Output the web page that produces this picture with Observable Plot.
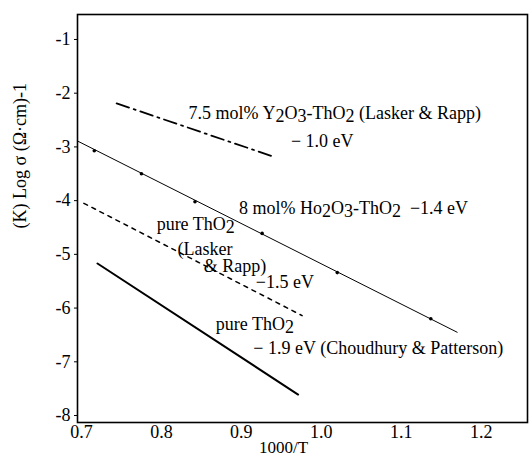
<!DOCTYPE html>
<html><head><meta charset="utf-8">
<script src="https://cdn.jsdelivr.net/npm/d3@7"></script>
<script src="https://cdn.jsdelivr.net/npm/@observablehq/plot@0.6"></script>
<style>
body{margin:0;background:#fff}
svg{display:block}
#chart svg, #chart svg text{font-family:'Liberation Serif','DejaVu Serif','Times New Roman',serif !important}
</style>
</head><body><div id="chart"></div>
<script>
// tick values
const xTicks = [0.7, 0.8, 0.9, 1.0, 1.1, 1.2];
const yTicks = [-1, -2, -3, -4, -5, -6, -7, -8];

// series (1000/T, log sigma)
const y2o3X = [0.744, 0.940];
const y2o3Y = [-2.19, -3.18];
const hoX = [0.695, 1.17];
const hoY = [-2.89, -6.45];
const hoPtsX = [0.716, 0.775, 0.842, 0.926, 1.020, 1.137];
const hoPtsY = [-3.07, -3.50, -4.02, -4.61, -5.34, -6.20];
const laskerX = [0.703, 0.976];
const laskerY = [-4.05, -6.14];
const choudX = [0.720, 0.971];
const choudY = [-5.17, -7.61];

// annotations
const noteText = [
  "7.5 mol% Y2O3-ThO2 (Lasker & Rapp)",
  "\u2212 1.0 eV",
  "8 mol% Ho2O3-ThO2  \u22121.4 eV",
  "pure ThO2",
  "(Lasker",
  "& Rapp)",
  "\u22121.5 eV",
  "pure ThO2",
  "\u2212 1.9 eV (Choudhury & Patterson)"
];
const noteX = [0.834, 0.962, 0.897, 0.794, 0.820, 0.853, 0.918, 0.868, 0.915];
const noteY = [-2.38, -2.90, -4.15, -4.44, -4.91, -5.23, -5.52, -6.31, -6.74];

const toRows = (xs, ys) => xs.map((x, i) => ({x, y: ys[i]}));
const notes = noteText.map((t, i) => ({t, x: noteX[i], y: noteY[i]}));

const font = "'Liberation Serif', 'DejaVu Serif', 'Times New Roman', serif";

const chart = Plot.plot({
  width: 530,
  height: 457,
  marginLeft: 77,
  marginRight: 3,
  marginTop: 14,
  marginBottom: 35,
  style: {fontFamily: font, fontSize: "18px", background: "#fff", color: "#000"},
  x: {domain: [0.695, 1.258], ticks: xTicks, tickFormat: d => d.toFixed(1), tickSize: 0, tickPadding: 3, label: null},
  y: {domain: [-8.13, -0.535], ticks: yTicks, tickFormat: d => String(d), tickSize: 3, tickPadding: 4, label: null},
  marks: [
    Plot.frame({stroke: "#000", strokeWidth: 1.6}),
    Plot.line(toRows(y2o3X, y2o3Y), {x: "x", y: "y", stroke: "#000", strokeWidth: 1.8, strokeDasharray: "13,5,2,5"}),
    Plot.line(toRows(hoX, hoY), {x: "x", y: "y", stroke: "#000", strokeWidth: 1}),
    Plot.dot(toRows(hoPtsX, hoPtsY), {x: "x", y: "y", r: 1.8, fill: "#000"}),
    Plot.line(toRows(laskerX, laskerY), {x: "x", y: "y", stroke: "#000", strokeWidth: 1.5, strokeDasharray: "4,5"}),
    Plot.line(toRows(choudX, choudY), {x: "x", y: "y", stroke: "#000", strokeWidth: 2}),
    Plot.text(notes, {x: "x", y: "y", text: "t", textAnchor: "start", fontSize: 18, fill: "#000", className: "notes"}),
    Plot.text(["(K) Log \u03c3 (\u03a9\u00b7cm)-1"], {frameAnchor: "left", dx: -57, dy: 10, rotate: -90, fontSize: 18, fill: "#000"}),
    Plot.text(["1000/T"], {frameAnchor: "bottom", lineAnchor: "middle", dx: -19, dy: 25, fontSize: 17, fill: "#000"})
  ]
});
document.getElementById("chart").appendChild(chart);

// lowered digits in chemical formulas (e.g. Y2O3)
d3.select(chart).selectAll(".notes text").each(function() {
  const s = this.textContent;
  if (!/[A-Za-z]\d/.test(s)) return;
  const el = d3.select(this);
  el.text(null);
  let buf = "", sub = false;
  const flush = () => {
    if (!buf) return;
    const ts = el.append("tspan").text(buf);
    if (sub) ts.attr("baseline-shift", "-3");
    buf = "";
  };
  for (let i = 0; i < s.length; i++) {
    const c = s[i];
    const isSub = /\d/.test(c) && i > 0 && /[A-Za-z]/.test(s[i - 1]);
    if (isSub !== sub) { flush(); sub = isSub; }
    buf += c;
  }
  flush();
});
</script>
</body></html>
